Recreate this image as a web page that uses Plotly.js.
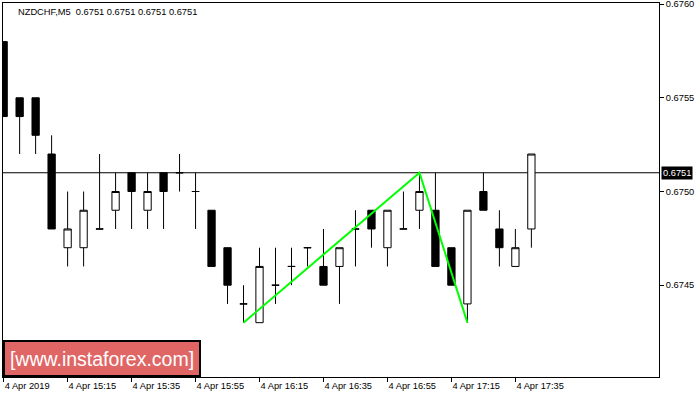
<!DOCTYPE html>
<html>
<head>
<meta charset="utf-8">
<script src="https://cdn.plot.ly/plotly-3.0.1.min.js"></script>
<style>html,body{margin:0;padding:0;background:#fff;}#chart{width:700px;height:400px;}</style>
</head>
<body>
<div id="chart"></div>
<script>
// Bar times (M5), 4 Apr 2019
var times = ["14:55","15:00","15:05","15:10","15:15","15:20","15:25","15:30","15:35","15:40",
             "15:45","15:50","15:55","16:00","16:05","16:10","16:15","16:20","16:25","16:30",
             "16:35","16:40","16:45","16:50","16:55","17:00","17:05","17:10","17:15","17:20",
             "17:25","17:30","17:35","17:40"];
var open  = [0.67580,0.67550,0.67550,0.67520,0.67470,0.67470,0.67480,0.67490,0.67510,0.67490,
             0.67510,0.67510,0.67500,0.67490,0.67470,0.67440,0.67430,0.67450,0.67460,0.67470,
             0.67460,0.67460,0.67480,0.67490,0.67470,0.67480,0.67490,0.67490,0.67470,0.67440,
             0.67500,0.67480,0.67460,0.67480];
var high  = [0.67580,0.67550,0.67550,0.67530,0.67500,0.67500,0.67520,0.67510,0.67510,0.67510,
             0.67510,0.67520,0.67510,0.67490,0.67470,0.67450,0.67470,0.67470,0.67470,0.67470,
             0.67480,0.67470,0.67490,0.67490,0.67490,0.67500,0.67510,0.67510,0.67470,0.67490,
             0.67510,0.67490,0.67480,0.67520];
var low   = [0.67540,0.67520,0.67520,0.67480,0.67460,0.67460,0.67480,0.67480,0.67480,0.67480,
             0.67480,0.67500,0.67480,0.67460,0.67440,0.67430,0.67430,0.67440,0.67450,0.67460,
             0.67450,0.67440,0.67460,0.67470,0.67460,0.67480,0.67480,0.67460,0.67450,0.67430,
             0.67490,0.67460,0.67460,0.67470];
var close = [0.67540,0.67540,0.67530,0.67480,0.67480,0.67490,0.67480,0.67500,0.67500,0.67500,
             0.67500,0.67510,0.67500,0.67460,0.67450,0.67440,0.67460,0.67450,0.67460,0.67470,
             0.67450,0.67470,0.67480,0.67480,0.67490,0.67480,0.67500,0.67460,0.67450,0.67490,
             0.67490,0.67470,0.67470,0.67520];

// Pattern (green) line
var patternX = ["16:10","17:05","17:20"];
var patternY = [0.67430,0.67510,0.67430];

// Current price level
var bidLevel = 0.6751;

// Axis ticks
var xTickVals = ["14:55","15:15","15:35","15:55","16:15","16:35","16:55","17:15","17:35"];
var xTickText = ["4 Apr 2019","4 Apr 15:15","4 Apr 15:35","4 Apr 15:55","4 Apr 16:15",
                 "4 Apr 16:35","4 Apr 16:55","4 Apr 17:15","4 Apr 17:35"];
var yTickVals = [0.6745,0.6750,0.6755,0.6760];
var yTickText = ["0.6745","0.6750","0.6755","0.6760"];

var titleText = "NZDCHF,M5\u00a0 0.6751 0.6751 0.6751 0.6751";
var logoText = "[www.instaforex.com]";

var FONT = "Liberation Sans, Arial, sans-serif";

var traces = [
  {
    type: "candlestick",
    x: times, open: open, high: high, low: low, close: close,
    increasing: {line: {color: "#000", width: 1}, fillcolor: "#fff"},
    decreasing: {line: {color: "#000", width: 1}, fillcolor: "#000"},
    whiskerwidth: 0,
    hoverinfo: "skip",
    showlegend: false
  },
  {
    type: "scatter", mode: "lines",
    x: patternX, y: patternY,
    line: {color: "#00ff00", width: 2},
    hoverinfo: "skip", showlegend: false
  }
];

var layout = {
  width: 700, height: 400,
  margin: {l: 3, r: 41, t: 3, b: 23, pad: 0},
  paper_bgcolor: "#fff", plot_bgcolor: "#fff",
  showlegend: false,
  boxgap: 0.35,
  title: {
    text: titleText,
    font: {family: FONT, size: 9.3, color: "#000"},
    x: 18/700, xanchor: "left", xref: "container",
    y: 1 - 12/400, yanchor: "middle", yref: "container"
  },
  xaxis: {
    type: "category",
    categoryorder: "array", categoryarray: times,
    range: [-0.04, 40.98],
    rangeslider: {visible: false},
    showgrid: false, zeroline: false,
    showline: true, linecolor: "#000", linewidth: 1, mirror: true,
    ticks: "outside", ticklen: 4, tickcolor: "#000", tickwidth: 1,
    tickmode: "array", tickvals: xTickVals, ticktext: xTickText,
    ticklabelposition: "outside right",
    ticklabeloverflow: "allow",
    tickfont: {family: FONT, size: 9.3, color: "#000"},
    fixedrange: true
  },
  yaxis: {
    side: "right",
    range: [0.67401, 0.676006],
    showgrid: false, zeroline: false,
    showline: true, linecolor: "#000", linewidth: 1, mirror: true,
    ticks: "outside", ticklen: 4, tickcolor: "#000", tickwidth: 1,
    tickmode: "array", tickvals: yTickVals, ticktext: yTickText,
    ticklabeloverflow: "allow",
    tickfont: {family: FONT, size: 9.3, color: "#000"},
    fixedrange: true
  },
  shapes: [
    {type: "line", xref: "paper", x0: 0, x1: 1, yref: "y", y0: bidLevel, y1: bidLevel,
     line: {color: "#000", width: 1}, layer: "below"}
  ],
  annotations: [
    {
      xref: "paper", yref: "y", x: 1, y: bidLevel, xanchor: "left", yanchor: "middle",
      xshift: 2, text: bidLevel.toFixed(4), showarrow: false,
      bgcolor: "#000", borderpad: 1,
      font: {family: FONT, size: 9.3, color: "#fff"}
    },
    {
      xref: "paper", yref: "paper", x: 0, y: 0, xanchor: "left", yanchor: "bottom",
      text: logoText, showarrow: false,
      bgcolor: "#e06666", bordercolor: "#000", borderwidth: 2, borderpad: 1,
      width: 192, height: 31,
      font: {family: FONT, size: 19.5, color: "#fff"}
    }
  ]
};

Plotly.newPlot("chart", traces, layout, {staticPlot: true, displayModeBar: false});
</script>
</body>
</html>
